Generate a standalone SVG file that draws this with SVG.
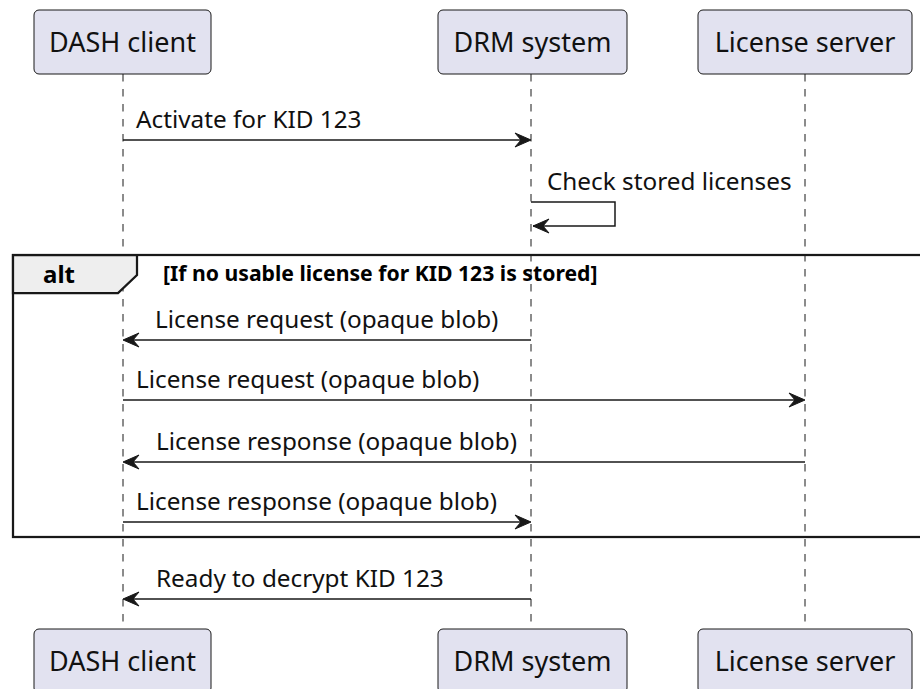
<svg xmlns="http://www.w3.org/2000/svg" width="920" height="689" viewBox="0 0 920 689">
<style>
.box{fill:#E2E2F0;stroke:#181818;stroke-width:1}
.life{stroke:#181818;stroke-width:1;stroke-dasharray:7.5,7.5;fill:none}
.msg{stroke:#181818;stroke-width:1.5;fill:none}
.head{fill:#181818;stroke:#181818;stroke-width:1}
.t{font-family:"Noto Sans","Open Sans",sans-serif;fill:#111;font-size:24.3px}
.pt{font-family:"Noto Sans","Open Sans",sans-serif;fill:#111;font-size:27px}
</style>
<rect width="920" height="689" fill="#FFFFFF"/>
<g id="lifelines">
<line class="life" x1="123" y1="74" x2="123" y2="629"/>
<line class="life" x1="531" y1="74" x2="531" y2="629"/>
<line class="life" x1="805" y1="74" x2="805" y2="629"/>
</g>
<g id="alt-frame">
<rect x="13" y="255" width="920" height="282" fill="none" stroke="#181818" stroke-width="2.25"/>
<polygon points="13,255 137,255 137,275 118,293 13,293" fill="#EEEEEE" stroke="#181818" stroke-width="2.25"/>
<text x="43" y="283" font-family="'Noto Sans','Open Sans',sans-serif" font-size="24" font-weight="bold">alt</text>
<text x="163" y="281" font-family="'Noto Sans','Open Sans',sans-serif" font-size="21.2" font-weight="bold">[If no usable license for KID 123 is stored]</text>
</g>
<g id="participant-dash-top"><rect class="box" x="34" y="10" width="177" height="64" rx="5"/><text class="pt" x="122.5" y="52" text-anchor="middle">DASH client</text></g>
<g id="participant-drm-top"><rect class="box" x="438" y="10" width="189" height="64" rx="5"/><text class="pt" x="532.5" y="52" text-anchor="middle">DRM system</text></g>
<g id="participant-ls-top"><rect class="box" x="698" y="10" width="214" height="64" rx="5"/><text class="pt" x="805" y="52" text-anchor="middle">License server</text></g>
<g id="participant-dash-bottom"><rect class="box" x="34" y="629" width="177" height="64" rx="5"/><text class="pt" x="122.5" y="671" text-anchor="middle">DASH client</text></g>
<g id="participant-drm-bottom"><rect class="box" x="438" y="629" width="189" height="64" rx="5"/><text class="pt" x="532.5" y="671" text-anchor="middle">DRM system</text></g>
<g id="participant-ls-bottom"><rect class="box" x="698" y="629" width="214" height="64" rx="5"/><text class="pt" x="805" y="671" text-anchor="middle">License server</text></g>
<g id="connectors">
<line class="msg" x1="123" y1="140" x2="529" y2="140"/>
<polygon class="head" points="531,140 515,133 521,140 515,147"/>
<text class="t" x="136" y="128">Activate for KID 123</text>
<polyline class="msg" points="531,202 615,202 615,226 533,226"/>
<polygon class="head" points="533,226 549,219 543,226 549,233"/>
<text class="t" x="547" y="190">Check stored licenses</text>
<line class="msg" x1="531" y1="340" x2="125" y2="340"/>
<polygon class="head" points="123,340 139,333 133,340 139,347"/>
<text class="t" x="155" y="328">License request (opaque blob)</text>
<line class="msg" x1="123" y1="400" x2="803" y2="400"/>
<polygon class="head" points="805,400 789,393 795,400 789,407"/>
<text class="t" x="136" y="388">License request (opaque blob)</text>
<line class="msg" x1="805" y1="462" x2="125" y2="462"/>
<polygon class="head" points="123,462 139,455 133,462 139,469"/>
<text class="t" x="156" y="450">License response (opaque blob)</text>
<line class="msg" x1="123" y1="522" x2="529" y2="522"/>
<polygon class="head" points="531,522 515,515 521,522 515,529"/>
<text class="t" x="136" y="510">License response (opaque blob)</text>
<line class="msg" x1="531" y1="599" x2="125" y2="599"/>
<polygon class="head" points="123,599 139,592 133,599 139,606"/>
<text class="t" x="156" y="587">Ready to decrypt KID 123</text>
</g>
</svg>
